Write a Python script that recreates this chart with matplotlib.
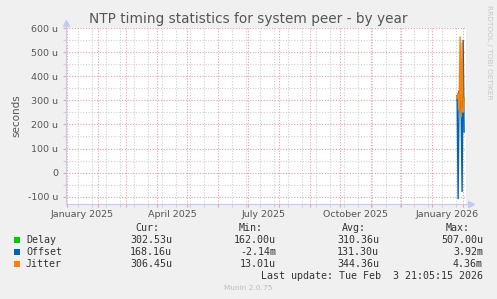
import matplotlib
matplotlib.use("Agg")
import matplotlib.pyplot as plt
import matplotlib.dates as mdates
from matplotlib.ticker import MultipleLocator, FuncFormatter, FixedLocator
from matplotlib.patches import Rectangle
import numpy as np
import datetime as dt

# ---- data (values in microseconds) ----
dates = ["2026-01-26", "2026-01-27", "2026-01-28", "2026-01-29",
         "2026-01-30", "2026-01-31", "2026-02-01", "2026-02-02"]
delay = [300, 310, 290, 330, 310, 300, 320, 302.5]
offset = [320, -110, 340, 300, 250, -80, 550, 168.2]
jitter = [310, 330, 260, 565, 230, 540, 250, 306.5]

series_names = ["Delay", "Offset", "Jitter"]
series_colors = ["#00CC00", "#0066B3", "#FF8000"]
cur_vals = ["302.53u", "168.16u", "306.45u"]
min_vals = ["162.00u", "-2.14m", "13.01u"]
avg_vals = ["310.36u", "131.30u", "344.36u"]
max_vals = ["507.00u", "3.92m", "4.36m"]

month_labels = ["January 2025", "April 2025", "July 2025", "October 2025", "January 2026"]
label_dates = ["2025-01-16", "2025-04-16", "2025-07-16", "2025-10-16", "2026-01-16"]
y_ticks = [-100, 0, 100, 200, 300, 400, 500, 600]

title = "NTP timing statistics for system peer - by year"
last_update = "Last update: Tue Feb  3 21:05:15 2026"

W, H = 497, 299
fig = plt.figure(figsize=(W / 100, H / 100), dpi=100, facecolor="#F0F0F0")
ax = fig.add_axes([66 / W, 1 - 204 / H, 400 / W, 176 / H])
ax.set_facecolor("white")

end = dt.datetime(2026, 2, 3, 21, 5)
start = end - dt.timedelta(days=400)

xd = [dt.datetime.strptime(d, "%Y-%m-%d") for d in dates]
for vals, col in zip([delay, offset, jitter], series_colors):
    ax.plot(xd, vals, color=col, lw=1.0, solid_joinstyle="miter")

ax.set_xlim(start, end)
ax.set_ylim(-130, 600)

# grid
red = "#EBA0A0"
gray = "#D0D0D0"
ax.xaxis.set_major_locator(mdates.MonthLocator())
minor_days = []
d = dt.datetime(2025, 1, 12)
while d < end:
    minor_days.append(mdates.date2num(d))
    d += dt.timedelta(days=14)
ax.xaxis.set_minor_locator(FixedLocator(minor_days))
ax.xaxis.set_major_formatter(FuncFormatter(lambda v, p: ""))
ax.yaxis.set_major_locator(FixedLocator(y_ticks))
ax.yaxis.set_minor_locator(MultipleLocator(50))
ax.yaxis.set_major_formatter(FuncFormatter(lambda v, p: "0" if v == 0 else f"{int(round(v))} u"))

ax.grid(which="major", color=red, lw=0.8, linestyle=(0, (1, 1.5)))
ax.grid(which="minor", color=gray, lw=0.8, linestyle=(0, (1, 1.5)))
ax.set_axisbelow(True)
ax.tick_params(which="major", direction="out", length=2.5, color=red, width=0.8,
               labelsize=6.8, labelcolor="#555555", pad=3)
ax.tick_params(which="minor", direction="out", length=2.5, color=gray, width=0.8)

for s in ["top", "right"]:
    ax.spines[s].set_visible(False)
axis_col = "#C8C8F4"
ax.spines["left"].set_color(axis_col)
ax.spines["bottom"].set_color(axis_col)
ax.plot([0, 0], [1, 1.03], transform=ax.transAxes, color=axis_col, lw=0.8, clip_on=False)
ax.plot([1, 1.012], [0, 0], transform=ax.transAxes, color=axis_col, lw=0.8, clip_on=False)
ax.plot(0, 1.03, marker="^", ms=4, color=axis_col, transform=ax.transAxes, clip_on=False)
ax.plot(1.012, 0, marker=">", ms=4, color=axis_col, transform=ax.transAxes, clip_on=False)

# month labels centered mid-month
for lab, ld in zip(month_labels, label_dates):
    ax.text(dt.datetime.strptime(ld, "%Y-%m-%d"), -0.035, lab, transform=ax.get_xaxis_transform(),
            ha="center", va="top", fontsize=6.8, color="#555555")

ax.set_ylabel("seconds", fontsize=7.5, color="#555555", labelpad=5)

fig.text(248 / W, 1 - 19 / H, title, ha="center", va="center", fontsize=9.8, color="#555555")
fig.text(489 / W, 1 - 5 / H, "RRDTOOL / TOBI OETIKER", rotation=270, ha="center", va="top",
         fontsize=5.3, color="#C8C8C8")

# legend
mono = "DejaVu Sans Mono"
fs = 7.2
tc = "#333333"
col_x = [172, 276, 379, 483]
heads = ["Cur:", "Min:", "Avg:", "Max:"]
for x, h in zip(col_x, heads):
    fig.text((x - 13) / W, 1 - 228 / H, h, ha="right", va="center", family=mono, fontsize=fs, color=tc)
rows_y = [240, 252, 264]
for i, name in enumerate(series_names):
    y = rows_y[i]
    fig.patches.append(Rectangle((14 / W, 1 - (y + 3) / H), 6 / W, 6 / H, transform=fig.transFigure,
                                 facecolor=series_colors[i], edgecolor="none"))
    fig.text(26 / W, 1 - y / H, name, ha="left", va="center", family=mono, fontsize=fs, color=tc)
    for x, v in zip(col_x, [cur_vals[i], min_vals[i], avg_vals[i], max_vals[i]]):
        fig.text(x / W, 1 - y / H, v, ha="right", va="center", family=mono, fontsize=fs, color=tc)
fig.text(483 / W, 1 - 276 / H, last_update, ha="right", va="center", family=mono, fontsize=fs, color=tc)
fig.text(248 / W, 1 - 288 / H, "Munin 2.0.75", ha="center", va="center", fontsize=5.3, color="#BBBBBB")

fig.savefig("out.png", dpi=100, facecolor=fig.get_facecolor())
